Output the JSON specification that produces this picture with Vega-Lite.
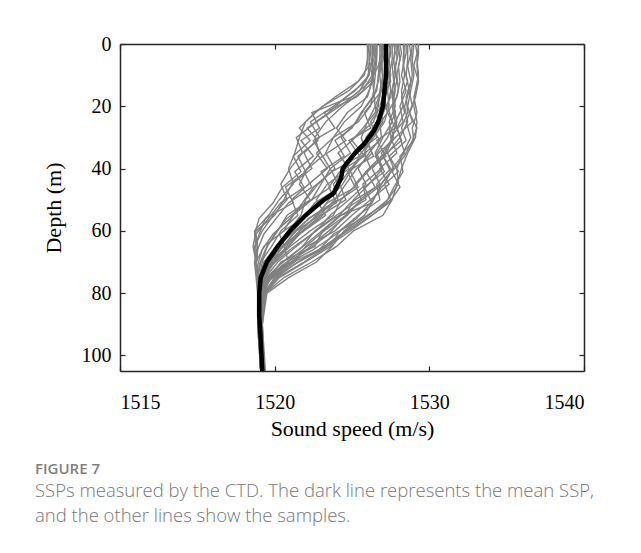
{
  "$schema": "https://vega.github.io/schema/vega-lite/v6.json",
  "autosize": {"type": "none"},
  "width": 464,
  "height": 327,
  "padding": {"left": 120, "top": 44, "right": 57, "bottom": 182},
  "background": "white",
  "config": {
    "view": {"stroke": null},
    "axis": {"labelFont": "Liberation Serif", "titleFont": "Liberation Serif", "labelFontSize": 20, "titleFontSize": 22, "labelColor": "#000", "titleColor": "#000", "titleFontWeight": "normal", "domainColor": "#262626", "domainWidth": 1.5, "tickColor": "#262626", "tickWidth": 1.2, "grid": false, "format": "d"},
    "title": {"font": "Open Sans", "fontSize": 15, "fontWeight": 600, "color": "#7f7f7f", "subtitleFont": "Open Sans", "subtitleFontSize": 18.5, "subtitleFontWeight": 300, "subtitleColor": "#777777", "subtitleLineHeight": 25, "subtitlePadding": 5}
  },
  "title": {
    "text": "FIGURE 7",
    "subtitle": ["SSPs measured by the CTD. The dark line represents the mean SSP,", "and the other lines show the samples."],
    "orient": "bottom", "anchor": "start", "frame": "group", "dx": -85, "offset": 23
  },
  "datasets": {
    "samples": [
{"p":1,"d":0,"c":1529.3},{"p":1,"d":5,"c":1529.2},{"p":1,"d":10,"c":1529.3},{"p":1,"d":15,"c":1529.1},{"p":1,"d":20,"c":1529.0},{"p":1,"d":25,"c":1529.2},{"p":1,"d":30,"c":1529.1},{"p":1,"d":35,"c":1528.6},{"p":1,"d":40,"c":1528.2},{"p":1,"d":45,"c":1527.9},{"p":1,"d":50,"c":1527.6},{"p":1,"d":55,"c":1527.0},{"p":1,"d":60,"c":1525.1},{"p":1,"d":65,"c":1524.0},{"p":1,"d":70,"c":1522.4},{"p":1,"d":75,"c":1520.6},{"p":1,"d":80,"c":1519.4},{"p":1,"d":90,"c":1519.2},{"p":1,"d":105,"c":1519.3},
{"p":2,"d":0,"c":1528.9},{"p":2,"d":5,"c":1528.8},{"p":2,"d":10,"c":1528.9},{"p":2,"d":15,"c":1528.7},{"p":2,"d":20,"c":1528.9},{"p":2,"d":25,"c":1528.5},{"p":2,"d":30,"c":1528.8},{"p":2,"d":35,"c":1528.3},{"p":2,"d":40,"c":1527.9},{"p":2,"d":45,"c":1528.0},{"p":2,"d":50,"c":1527.3},{"p":2,"d":55,"c":1526.1},{"p":2,"d":60,"c":1524.6},{"p":2,"d":65,"c":1523.2},{"p":2,"d":70,"c":1521.5},{"p":2,"d":75,"c":1520.1},{"p":2,"d":80,"c":1519.3},{"p":2,"d":90,"c":1519.1},{"p":2,"d":105,"c":1519.3},
{"p":3,"d":0,"c":1528.3},{"p":3,"d":5,"c":1528.4},{"p":3,"d":10,"c":1528.2},{"p":3,"d":15,"c":1528.5},{"p":3,"d":20,"c":1528.1},{"p":3,"d":25,"c":1528.3},{"p":3,"d":30,"c":1527.5},{"p":3,"d":35,"c":1527.9},{"p":3,"d":40,"c":1526.8},{"p":3,"d":45,"c":1527.4},{"p":3,"d":50,"c":1526.2},{"p":3,"d":55,"c":1525.0},{"p":3,"d":60,"c":1523.9},{"p":3,"d":65,"c":1522.1},{"p":3,"d":70,"c":1520.8},{"p":3,"d":75,"c":1519.6},{"p":3,"d":80,"c":1519.2},{"p":3,"d":90,"c":1519.0},{"p":3,"d":105,"c":1519.2},
{"p":4,"d":0,"c":1527.6},{"p":4,"d":5,"c":1527.6},{"p":4,"d":10,"c":1527.4},{"p":4,"d":15,"c":1527.5},{"p":4,"d":20,"c":1527.3},{"p":4,"d":25,"c":1527.6},{"p":4,"d":30,"c":1527.0},{"p":4,"d":35,"c":1526.5},{"p":4,"d":40,"c":1526.9},{"p":4,"d":45,"c":1525.7},{"p":4,"d":50,"c":1525.9},{"p":4,"d":55,"c":1524.3},{"p":4,"d":60,"c":1523.1},{"p":4,"d":65,"c":1522.6},{"p":4,"d":70,"c":1520.4},{"p":4,"d":75,"c":1519.7},{"p":4,"d":80,"c":1519.1},{"p":4,"d":90,"c":1519.0},{"p":4,"d":105,"c":1519.2},
{"p":5,"d":0,"c":1527.1},{"p":5,"d":5,"c":1527.1},{"p":5,"d":10,"c":1527.2},{"p":5,"d":15,"c":1527.0},{"p":5,"d":20,"c":1527.2},{"p":5,"d":25,"c":1526.8},{"p":5,"d":30,"c":1526.9},{"p":5,"d":35,"c":1526.1},{"p":5,"d":40,"c":1525.4},{"p":5,"d":45,"c":1525.9},{"p":5,"d":50,"c":1524.8},{"p":5,"d":55,"c":1523.6},{"p":5,"d":60,"c":1522.7},{"p":5,"d":65,"c":1521.4},{"p":5,"d":70,"c":1520.2},{"p":5,"d":75,"c":1519.4},{"p":5,"d":80,"c":1519.0},{"p":5,"d":90,"c":1518.9},{"p":5,"d":105,"c":1519.1},
{"p":6,"d":0,"c":1526.6},{"p":6,"d":5,"c":1526.6},{"p":6,"d":10,"c":1526.5},{"p":6,"d":15,"c":1526.4},{"p":6,"d":20,"c":1526.5},{"p":6,"d":25,"c":1526.0},{"p":6,"d":30,"c":1525.6},{"p":6,"d":35,"c":1525.9},{"p":6,"d":40,"c":1524.9},{"p":6,"d":45,"c":1524.2},{"p":6,"d":50,"c":1524.6},{"p":6,"d":55,"c":1523.0},{"p":6,"d":60,"c":1521.8},{"p":6,"d":65,"c":1520.9},{"p":6,"d":70,"c":1519.6},{"p":6,"d":75,"c":1519.2},{"p":6,"d":80,"c":1518.9},{"p":6,"d":90,"c":1518.9},{"p":6,"d":105,"c":1519.1},
{"p":7,"d":0,"c":1526.2},{"p":7,"d":5,"c":1526.1},{"p":7,"d":10,"c":1526.3},{"p":7,"d":15,"c":1525.7},{"p":7,"d":20,"c":1524.4},{"p":7,"d":25,"c":1523.3},{"p":7,"d":30,"c":1522.6},{"p":7,"d":35,"c":1522.9},{"p":7,"d":40,"c":1522.1},{"p":7,"d":45,"c":1521.6},{"p":7,"d":50,"c":1522.3},{"p":7,"d":55,"c":1520.8},{"p":7,"d":60,"c":1520.2},{"p":7,"d":65,"c":1519.5},{"p":7,"d":70,"c":1519.2},{"p":7,"d":75,"c":1519.0},{"p":7,"d":80,"c":1518.9},{"p":7,"d":90,"c":1519.0},{"p":7,"d":105,"c":1519.1},
{"p":8,"d":0,"c":1526.0},{"p":8,"d":5,"c":1526.0},{"p":8,"d":10,"c":1525.8},{"p":8,"d":15,"c":1524.8},{"p":8,"d":20,"c":1523.1},{"p":8,"d":25,"c":1522.0},{"p":8,"d":30,"c":1521.6},{"p":8,"d":35,"c":1521.3},{"p":8,"d":40,"c":1520.9},{"p":8,"d":45,"c":1521.2},{"p":8,"d":50,"c":1520.3},{"p":8,"d":55,"c":1519.6},{"p":8,"d":60,"c":1518.7},{"p":8,"d":65,"c":1518.9},{"p":8,"d":70,"c":1518.7},{"p":8,"d":75,"c":1518.8},{"p":8,"d":80,"c":1518.9},{"p":8,"d":90,"c":1519.0},{"p":8,"d":105,"c":1519.1},
{"p":9,"d":0,"c":1526.4},{"p":9,"d":5,"c":1526.3},{"p":9,"d":10,"c":1526.4},{"p":9,"d":15,"c":1526.1},{"p":9,"d":20,"c":1525.6},{"p":9,"d":25,"c":1524.5},{"p":9,"d":30,"c":1523.8},{"p":9,"d":35,"c":1522.7},{"p":9,"d":40,"c":1523.4},{"p":9,"d":45,"c":1522.2},{"p":9,"d":50,"c":1521.1},{"p":9,"d":55,"c":1521.5},{"p":9,"d":60,"c":1520.4},{"p":9,"d":65,"c":1519.8},{"p":9,"d":70,"c":1519.1},{"p":9,"d":75,"c":1518.9},{"p":9,"d":80,"c":1519.0},{"p":9,"d":90,"c":1519.0},{"p":9,"d":105,"c":1519.2},
{"p":10,"d":0,"c":1527.0},{"p":10,"d":5,"c":1526.9},{"p":10,"d":10,"c":1527.0},{"p":10,"d":15,"c":1526.8},{"p":10,"d":20,"c":1526.7},{"p":10,"d":25,"c":1526.4},{"p":10,"d":30,"c":1525.2},{"p":10,"d":35,"c":1524.1},{"p":10,"d":40,"c":1524.8},{"p":10,"d":45,"c":1523.4},{"p":10,"d":50,"c":1522.7},{"p":10,"d":55,"c":1523.3},{"p":10,"d":60,"c":1521.9},{"p":10,"d":65,"c":1520.6},{"p":10,"d":70,"c":1520.9},{"p":10,"d":75,"c":1519.6},{"p":10,"d":80,"c":1519.2},{"p":10,"d":90,"c":1519.1},{"p":10,"d":105,"c":1519.2},
{"p":11,"d":0,"c":1528.0},{"p":11,"d":5,"c":1528.1},{"p":11,"d":10,"c":1527.9},{"p":11,"d":15,"c":1528.0},{"p":11,"d":20,"c":1527.7},{"p":11,"d":25,"c":1527.9},{"p":11,"d":30,"c":1527.6},{"p":11,"d":35,"c":1527.1},{"p":11,"d":40,"c":1526.1},{"p":11,"d":45,"c":1525.2},{"p":11,"d":50,"c":1525.6},{"p":11,"d":55,"c":1524.7},{"p":11,"d":60,"c":1523.5},{"p":11,"d":65,"c":1522.3},{"p":11,"d":70,"c":1521.1},{"p":11,"d":75,"c":1520.0},{"p":11,"d":80,"c":1519.3},{"p":11,"d":90,"c":1519.1},{"p":11,"d":105,"c":1519.3},
{"p":12,"d":0,"c":1529.0},{"p":12,"d":5,"c":1528.9},{"p":12,"d":10,"c":1529.0},{"p":12,"d":15,"c":1528.8},{"p":12,"d":20,"c":1528.6},{"p":12,"d":25,"c":1528.9},{"p":12,"d":30,"c":1527.8},{"p":12,"d":35,"c":1526.9},{"p":12,"d":40,"c":1527.5},{"p":12,"d":45,"c":1526.6},{"p":12,"d":50,"c":1526.8},{"p":12,"d":55,"c":1525.4},{"p":12,"d":60,"c":1524.2},{"p":12,"d":65,"c":1523.6},{"p":12,"d":70,"c":1522.0},{"p":12,"d":75,"c":1520.3},{"p":12,"d":80,"c":1519.4},{"p":12,"d":90,"c":1519.2},{"p":12,"d":105,"c":1519.4},
{"p":13,"d":0,"c":1527.3},{"p":13,"d":5,"c":1527.3},{"p":13,"d":10,"c":1527.1},{"p":13,"d":15,"c":1527.3},{"p":13,"d":20,"c":1526.9},{"p":13,"d":25,"c":1526.2},{"p":13,"d":30,"c":1526.6},{"p":13,"d":35,"c":1525.3},{"p":13,"d":40,"c":1524.6},{"p":13,"d":45,"c":1523.8},{"p":13,"d":50,"c":1524.1},{"p":13,"d":55,"c":1522.5},{"p":13,"d":60,"c":1521.3},{"p":13,"d":65,"c":1520.2},{"p":13,"d":70,"c":1519.8},{"p":13,"d":75,"c":1519.2},{"p":13,"d":80,"c":1519.0},{"p":13,"d":90,"c":1518.9},{"p":13,"d":105,"c":1519.1},
{"p":14,"d":0,"c":1526.8},{"p":14,"d":5,"c":1526.8},{"p":14,"d":10,"c":1526.7},{"p":14,"d":15,"c":1526.6},{"p":14,"d":20,"c":1525.9},{"p":14,"d":25,"c":1525.3},{"p":14,"d":30,"c":1524.3},{"p":14,"d":35,"c":1524.9},{"p":14,"d":40,"c":1523.6},{"p":14,"d":45,"c":1523.0},{"p":14,"d":50,"c":1522.4},{"p":14,"d":55,"c":1521.2},{"p":14,"d":60,"c":1520.6},{"p":14,"d":65,"c":1519.3},{"p":14,"d":70,"c":1518.8},{"p":14,"d":75,"c":1518.9},{"p":14,"d":80,"c":1518.9},{"p":14,"d":90,"c":1519.0},{"p":14,"d":105,"c":1519.1},
{"p":15,"d":0,"c":1526.3},{"p":15,"d":5,"c":1526.3},{"p":15,"d":10,"c":1526.1},{"p":15,"d":15,"c":1525.2},{"p":15,"d":20,"c":1523.8},{"p":15,"d":25,"c":1522.3},{"p":15,"d":30,"c":1522.9},{"p":15,"d":35,"c":1521.9},{"p":15,"d":40,"c":1522.4},{"p":15,"d":45,"c":1521.1},{"p":15,"d":50,"c":1520.6},{"p":15,"d":55,"c":1520.0},{"p":15,"d":60,"c":1518.8},{"p":15,"d":65,"c":1518.6},{"p":15,"d":70,"c":1518.8},{"p":15,"d":75,"c":1518.9},{"p":15,"d":80,"c":1519.0},{"p":15,"d":90,"c":1519.0},{"p":15,"d":105,"c":1519.1},
{"p":16,"d":0,"c":1527.8},{"p":16,"d":5,"c":1527.7},{"p":16,"d":10,"c":1527.8},{"p":16,"d":15,"c":1527.6},{"p":16,"d":20,"c":1527.8},{"p":16,"d":25,"c":1527.4},{"p":16,"d":30,"c":1527.7},{"p":16,"d":35,"c":1527.2},{"p":16,"d":40,"c":1526.3},{"p":16,"d":45,"c":1526.8},{"p":16,"d":50,"c":1525.5},{"p":16,"d":55,"c":1524.0},{"p":16,"d":60,"c":1522.6},{"p":16,"d":65,"c":1521.8},{"p":16,"d":70,"c":1520.5},{"p":16,"d":75,"c":1519.5},{"p":16,"d":80,"c":1519.1},{"p":16,"d":90,"c":1519.0},{"p":16,"d":105,"c":1519.2},
{"p":17,"d":0,"c":1528.6},{"p":17,"d":5,"c":1528.6},{"p":17,"d":10,"c":1528.5},{"p":17,"d":15,"c":1528.7},{"p":17,"d":20,"c":1528.4},{"p":17,"d":25,"c":1528.6},{"p":17,"d":30,"c":1528.1},{"p":17,"d":35,"c":1528.4},{"p":17,"d":40,"c":1527.6},{"p":17,"d":45,"c":1527.1},{"p":17,"d":50,"c":1527.5},{"p":17,"d":55,"c":1526.3},{"p":17,"d":60,"c":1524.9},{"p":17,"d":65,"c":1523.4},{"p":17,"d":70,"c":1521.9},{"p":17,"d":75,"c":1520.2},{"p":17,"d":80,"c":1519.3},{"p":17,"d":90,"c":1519.1},{"p":17,"d":105,"c":1519.3},
{"p":18,"d":0,"c":1527.5},{"p":18,"d":5,"c":1527.4},{"p":18,"d":10,"c":1527.5},{"p":18,"d":15,"c":1527.3},{"p":18,"d":20,"c":1527.4},{"p":18,"d":25,"c":1527.1},{"p":18,"d":30,"c":1526.4},{"p":18,"d":35,"c":1525.6},{"p":18,"d":40,"c":1525.0},{"p":18,"d":45,"c":1524.4},{"p":18,"d":50,"c":1523.5},{"p":18,"d":55,"c":1522.8},{"p":18,"d":60,"c":1521.6},{"p":18,"d":65,"c":1520.9},{"p":18,"d":70,"c":1520.0},{"p":18,"d":75,"c":1519.3},{"p":18,"d":80,"c":1519.0},{"p":18,"d":90,"c":1519.0},{"p":18,"d":105,"c":1519.2},
{"p":19,"d":0,"c":1526.5},{"p":19,"d":5,"c":1526.5},{"p":19,"d":10,"c":1526.3},{"p":19,"d":15,"c":1526.4},{"p":19,"d":20,"c":1526.2},{"p":19,"d":25,"c":1525.4},{"p":19,"d":30,"c":1523.8},{"p":19,"d":35,"c":1523.3},{"p":19,"d":40,"c":1523.9},{"p":19,"d":45,"c":1522.8},{"p":19,"d":50,"c":1522.0},{"p":19,"d":55,"c":1521.7},{"p":19,"d":60,"c":1520.9},{"p":19,"d":65,"c":1520.1},{"p":19,"d":70,"c":1519.3},{"p":19,"d":75,"c":1519.0},{"p":19,"d":80,"c":1518.9},{"p":19,"d":90,"c":1519.0},{"p":19,"d":105,"c":1519.1},
{"p":20,"d":0,"c":1527.2},{"p":20,"d":5,"c":1527.1},{"p":20,"d":10,"c":1527.2},{"p":20,"d":15,"c":1527.1},{"p":20,"d":20,"c":1526.8},{"p":20,"d":25,"c":1527.0},{"p":20,"d":30,"c":1526.3},{"p":20,"d":35,"c":1525.8},{"p":20,"d":40,"c":1526.2},{"p":20,"d":45,"c":1525.3},{"p":20,"d":50,"c":1524.3},{"p":20,"d":55,"c":1523.8},{"p":20,"d":60,"c":1522.3},{"p":20,"d":65,"c":1521.0},{"p":20,"d":70,"c":1519.9},{"p":20,"d":75,"c":1519.4},{"p":20,"d":80,"c":1519.1},{"p":20,"d":90,"c":1519.0},{"p":20,"d":105,"c":1519.2},
{"p":21,"d":0,"c":1528.4},{"p":21,"d":5,"c":1528.3},{"p":21,"d":10,"c":1528.4},{"p":21,"d":15,"c":1528.2},{"p":21,"d":20,"c":1528.3},{"p":21,"d":25,"c":1527.8},{"p":21,"d":30,"c":1528.1},{"p":21,"d":35,"c":1527.3},{"p":21,"d":40,"c":1527.7},{"p":21,"d":45,"c":1526.9},{"p":21,"d":50,"c":1526.4},{"p":21,"d":55,"c":1525.8},{"p":21,"d":60,"c":1524.5},{"p":21,"d":65,"c":1523.7},{"p":21,"d":70,"c":1522.7},{"p":21,"d":75,"c":1520.9},{"p":21,"d":80,"c":1519.5},{"p":21,"d":90,"c":1519.2},{"p":21,"d":105,"c":1519.3},
{"p":22,"d":0,"c":1526.9},{"p":22,"d":5,"c":1526.9},{"p":22,"d":10,"c":1526.8},{"p":22,"d":15,"c":1526.9},{"p":22,"d":20,"c":1526.5},{"p":22,"d":25,"c":1526.7},{"p":22,"d":30,"c":1525.9},{"p":22,"d":35,"c":1526.3},{"p":22,"d":40,"c":1525.3},{"p":22,"d":45,"c":1524.6},{"p":22,"d":50,"c":1523.9},{"p":22,"d":55,"c":1522.9},{"p":22,"d":60,"c":1521.4},{"p":22,"d":65,"c":1520.5},{"p":22,"d":70,"c":1519.5},{"p":22,"d":75,"c":1519.1},{"p":22,"d":80,"c":1519.0},{"p":22,"d":90,"c":1519.0},{"p":22,"d":105,"c":1519.1},
{"p":23,"d":0,"c":1526.1},{"p":23,"d":5,"c":1526.0},{"p":23,"d":10,"c":1526.1},{"p":23,"d":15,"c":1525.5},{"p":23,"d":20,"c":1524.2},{"p":23,"d":25,"c":1522.7},{"p":23,"d":30,"c":1521.4},{"p":23,"d":35,"c":1521.8},{"p":23,"d":40,"c":1521.0},{"p":23,"d":45,"c":1520.4},{"p":23,"d":50,"c":1520.8},{"p":23,"d":55,"c":1519.9},{"p":23,"d":60,"c":1519.2},{"p":23,"d":65,"c":1518.7},{"p":23,"d":70,"c":1518.8},{"p":23,"d":75,"c":1518.9},{"p":23,"d":80,"c":1519.0},{"p":23,"d":90,"c":1519.0},{"p":23,"d":105,"c":1519.1},
{"p":24,"d":0,"c":1527.9},{"p":24,"d":5,"c":1527.9},{"p":24,"d":10,"c":1527.7},{"p":24,"d":15,"c":1527.8},{"p":24,"d":20,"c":1527.6},{"p":24,"d":25,"c":1527.8},{"p":24,"d":30,"c":1527.3},{"p":24,"d":35,"c":1526.6},{"p":24,"d":40,"c":1527.0},{"p":24,"d":45,"c":1526.1},{"p":24,"d":50,"c":1525.1},{"p":24,"d":55,"c":1524.6},{"p":24,"d":60,"c":1523.2},{"p":24,"d":65,"c":1522.0},{"p":24,"d":70,"c":1521.3},{"p":24,"d":75,"c":1519.8},{"p":24,"d":80,"c":1519.2},{"p":24,"d":90,"c":1519.1},{"p":24,"d":105,"c":1519.2},
{"p":25,"d":0,"c":1526.8},{"p":25,"d":3,"c":1526.9},{"p":25,"d":7,"c":1526.7},{"p":25,"d":12,"c":1526.2},{"p":25,"d":17,"c":1525.0},{"p":25,"d":22,"c":1522.4},{"p":25,"d":27,"c":1522.9},{"p":25,"d":31,"c":1521.7},{"p":25,"d":36,"c":1522.5},{"p":25,"d":41,"c":1521.3},{"p":25,"d":46,"c":1521.9},{"p":25,"d":51,"c":1520.4},{"p":25,"d":56,"c":1519.6},{"p":25,"d":61,"c":1518.8},{"p":25,"d":66,"c":1518.9},{"p":25,"d":71,"c":1518.8},{"p":25,"d":76,"c":1519.0},{"p":25,"d":82,"c":1519.0},{"p":25,"d":95,"c":1519.1},{"p":25,"d":105,"c":1519.2},
{"p":26,"d":0,"c":1527.4},{"p":26,"d":3,"c":1527.5},{"p":26,"d":7,"c":1527.3},{"p":26,"d":12,"c":1527.4},{"p":26,"d":17,"c":1526.6},{"p":26,"d":22,"c":1525.8},{"p":26,"d":27,"c":1526.2},{"p":26,"d":31,"c":1524.8},{"p":26,"d":36,"c":1525.5},{"p":26,"d":41,"c":1523.7},{"p":26,"d":46,"c":1524.2},{"p":26,"d":51,"c":1522.6},{"p":26,"d":56,"c":1521.8},{"p":26,"d":61,"c":1520.3},{"p":26,"d":66,"c":1520.7},{"p":26,"d":71,"c":1519.4},{"p":26,"d":76,"c":1519.1},{"p":26,"d":82,"c":1519.0},{"p":26,"d":95,"c":1519.1},{"p":26,"d":105,"c":1519.2},
{"p":27,"d":0,"c":1529.1},{"p":27,"d":3,"c":1529.2},{"p":27,"d":7,"c":1529.0},{"p":27,"d":12,"c":1529.3},{"p":27,"d":17,"c":1529.1},{"p":27,"d":22,"c":1528.7},{"p":27,"d":27,"c":1529.2},{"p":27,"d":31,"c":1528.9},{"p":27,"d":36,"c":1528.4},{"p":27,"d":41,"c":1527.6},{"p":27,"d":46,"c":1528.1},{"p":27,"d":51,"c":1527.4},{"p":27,"d":56,"c":1526.0},{"p":27,"d":61,"c":1524.4},{"p":27,"d":66,"c":1523.0},{"p":27,"d":71,"c":1521.2},{"p":27,"d":76,"c":1519.6},{"p":27,"d":82,"c":1519.2},{"p":27,"d":95,"c":1519.2},{"p":27,"d":105,"c":1519.3},
{"p":28,"d":0,"c":1528.1},{"p":28,"d":3,"c":1528.2},{"p":28,"d":7,"c":1528.0},{"p":28,"d":12,"c":1528.1},{"p":28,"d":17,"c":1527.9},{"p":28,"d":22,"c":1527.3},{"p":28,"d":27,"c":1527.8},{"p":28,"d":31,"c":1526.6},{"p":28,"d":36,"c":1527.2},{"p":28,"d":41,"c":1525.9},{"p":28,"d":46,"c":1526.5},{"p":28,"d":51,"c":1524.9},{"p":28,"d":56,"c":1524.0},{"p":28,"d":61,"c":1522.8},{"p":28,"d":66,"c":1521.6},{"p":28,"d":71,"c":1520.3},{"p":28,"d":76,"c":1519.3},{"p":28,"d":82,"c":1519.1},{"p":28,"d":95,"c":1519.1},{"p":28,"d":105,"c":1519.3},
{"p":29,"d":0,"c":1526.3},{"p":29,"d":3,"c":1526.4},{"p":29,"d":7,"c":1526.2},{"p":29,"d":12,"c":1525.9},{"p":29,"d":17,"c":1524.6},{"p":29,"d":22,"c":1523.5},{"p":29,"d":27,"c":1522.1},{"p":29,"d":31,"c":1522.8},{"p":29,"d":36,"c":1521.5},{"p":29,"d":41,"c":1522.0},{"p":29,"d":46,"c":1520.7},{"p":29,"d":51,"c":1521.2},{"p":29,"d":56,"c":1519.4},{"p":29,"d":61,"c":1519.0},{"p":29,"d":66,"c":1518.7},{"p":29,"d":71,"c":1518.8},{"p":29,"d":76,"c":1518.9},{"p":29,"d":82,"c":1519.0},{"p":29,"d":95,"c":1519.1},{"p":29,"d":105,"c":1519.1},
{"p":30,"d":0,"c":1527.7},{"p":30,"d":3,"c":1527.8},{"p":30,"d":7,"c":1527.6},{"p":30,"d":12,"c":1527.7},{"p":30,"d":17,"c":1527.5},{"p":30,"d":22,"c":1527.0},{"p":30,"d":27,"c":1526.3},{"p":30,"d":31,"c":1526.8},{"p":30,"d":36,"c":1525.6},{"p":30,"d":41,"c":1524.9},{"p":30,"d":46,"c":1525.4},{"p":30,"d":51,"c":1523.9},{"p":30,"d":56,"c":1522.9},{"p":30,"d":61,"c":1521.5},{"p":30,"d":66,"c":1520.2},{"p":30,"d":71,"c":1519.6},{"p":30,"d":76,"c":1519.1},{"p":30,"d":82,"c":1519.0},{"p":30,"d":95,"c":1519.1},{"p":30,"d":105,"c":1519.2},
{"p":31,"d":0,"c":1528.7},{"p":31,"d":3,"c":1528.8},{"p":31,"d":7,"c":1528.6},{"p":31,"d":12,"c":1528.8},{"p":31,"d":17,"c":1528.5},{"p":31,"d":22,"c":1528.6},{"p":31,"d":27,"c":1528.2},{"p":31,"d":31,"c":1528.5},{"p":31,"d":36,"c":1527.4},{"p":31,"d":41,"c":1528.0},{"p":31,"d":46,"c":1526.9},{"p":31,"d":51,"c":1526.2},{"p":31,"d":56,"c":1525.3},{"p":31,"d":61,"c":1524.0},{"p":31,"d":66,"c":1522.5},{"p":31,"d":71,"c":1520.7},{"p":31,"d":76,"c":1519.4},{"p":31,"d":82,"c":1519.1},{"p":31,"d":95,"c":1519.2},{"p":31,"d":105,"c":1519.3},
{"p":32,"d":0,"c":1526.6},{"p":32,"d":3,"c":1526.6},{"p":32,"d":7,"c":1526.5},{"p":32,"d":12,"c":1526.3},{"p":32,"d":17,"c":1526.0},{"p":32,"d":22,"c":1524.7},{"p":32,"d":27,"c":1524.0},{"p":32,"d":31,"c":1524.6},{"p":32,"d":36,"c":1523.1},{"p":32,"d":41,"c":1523.7},{"p":32,"d":46,"c":1522.5},{"p":32,"d":51,"c":1521.8},{"p":32,"d":56,"c":1521.0},{"p":32,"d":61,"c":1519.9},{"p":32,"d":66,"c":1519.2},{"p":32,"d":71,"c":1518.9},{"p":32,"d":76,"c":1518.9},{"p":32,"d":82,"c":1519.0},{"p":32,"d":95,"c":1519.1},{"p":32,"d":105,"c":1519.1},
{"p":33,"d":0,"c":1527.0},{"p":33,"d":3,"c":1527.1},{"p":33,"d":7,"c":1526.9},{"p":33,"d":12,"c":1527.0},{"p":33,"d":17,"c":1526.8},{"p":33,"d":22,"c":1526.5},{"p":33,"d":27,"c":1525.7},{"p":33,"d":31,"c":1525.0},{"p":33,"d":36,"c":1525.8},{"p":33,"d":41,"c":1524.2},{"p":33,"d":46,"c":1523.5},{"p":33,"d":51,"c":1524.0},{"p":33,"d":56,"c":1522.2},{"p":33,"d":61,"c":1521.2},{"p":33,"d":66,"c":1520.4},{"p":33,"d":71,"c":1519.5},{"p":33,"d":76,"c":1519.1},{"p":33,"d":82,"c":1519.0},{"p":33,"d":95,"c":1519.1},{"p":33,"d":105,"c":1519.2},
{"p":34,"d":0,"c":1528.5},{"p":34,"d":3,"c":1528.5},{"p":34,"d":7,"c":1528.3},{"p":34,"d":12,"c":1528.6},{"p":34,"d":17,"c":1528.2},{"p":34,"d":22,"c":1528.4},{"p":34,"d":27,"c":1527.9},{"p":34,"d":31,"c":1528.2},{"p":34,"d":36,"c":1527.0},{"p":34,"d":41,"c":1527.5},{"p":34,"d":46,"c":1526.7},{"p":34,"d":51,"c":1525.4},{"p":34,"d":56,"c":1524.4},{"p":34,"d":61,"c":1523.5},{"p":34,"d":66,"c":1522.2},{"p":34,"d":71,"c":1520.5},{"p":34,"d":76,"c":1519.4},{"p":34,"d":82,"c":1519.1},{"p":34,"d":95,"c":1519.2},{"p":34,"d":105,"c":1519.3},
{"p":35,"d":0,"c":1526.2},{"p":35,"d":3,"c":1526.2},{"p":35,"d":7,"c":1526.1},{"p":35,"d":12,"c":1525.4},{"p":35,"d":17,"c":1523.9},{"p":35,"d":22,"c":1522.6},{"p":35,"d":27,"c":1521.6},{"p":35,"d":31,"c":1522.3},{"p":35,"d":36,"c":1521.2},{"p":35,"d":41,"c":1521.7},{"p":35,"d":46,"c":1520.5},{"p":35,"d":51,"c":1519.9},{"p":35,"d":56,"c":1519.0},{"p":35,"d":61,"c":1518.7},{"p":35,"d":66,"c":1518.8},{"p":35,"d":71,"c":1518.8},{"p":35,"d":76,"c":1518.9},{"p":35,"d":82,"c":1519.0},{"p":35,"d":95,"c":1519.0},{"p":35,"d":105,"c":1519.1},
{"p":36,"d":0,"c":1527.5},{"p":36,"d":3,"c":1527.5},{"p":36,"d":7,"c":1527.3},{"p":36,"d":12,"c":1527.5},{"p":36,"d":17,"c":1527.0},{"p":36,"d":22,"c":1527.3},{"p":36,"d":27,"c":1526.6},{"p":36,"d":31,"c":1525.9},{"p":36,"d":36,"c":1526.4},{"p":36,"d":41,"c":1524.7},{"p":36,"d":46,"c":1525.2},{"p":36,"d":51,"c":1523.4},{"p":36,"d":56,"c":1522.5},{"p":36,"d":61,"c":1521.4},{"p":36,"d":66,"c":1520.6},{"p":36,"d":71,"c":1519.7},{"p":36,"d":76,"c":1519.2},{"p":36,"d":82,"c":1519.0},{"p":36,"d":95,"c":1519.1},{"p":36,"d":105,"c":1519.2},
{"p":37,"d":0,"c":1527.9},{"p":37,"d":3,"c":1528.0},{"p":37,"d":7,"c":1527.8},{"p":37,"d":12,"c":1527.9},{"p":37,"d":17,"c":1527.6},{"p":37,"d":22,"c":1527.8},{"p":37,"d":27,"c":1527.4},{"p":37,"d":31,"c":1527.6},{"p":37,"d":36,"c":1526.5},{"p":37,"d":41,"c":1527.1},{"p":37,"d":46,"c":1525.8},{"p":37,"d":51,"c":1526.3},{"p":37,"d":56,"c":1523.8},{"p":37,"d":61,"c":1522.4},{"p":37,"d":66,"c":1521.0},{"p":37,"d":71,"c":1519.8},{"p":37,"d":76,"c":1519.2},{"p":37,"d":82,"c":1519.1},{"p":37,"d":95,"c":1519.1},{"p":37,"d":105,"c":1519.2},
{"p":38,"d":0,"c":1526.9},{"p":38,"d":3,"c":1527.0},{"p":38,"d":7,"c":1526.8},{"p":38,"d":12,"c":1526.7},{"p":38,"d":17,"c":1526.4},{"p":38,"d":22,"c":1525.6},{"p":38,"d":27,"c":1525.0},{"p":38,"d":31,"c":1523.9},{"p":38,"d":36,"c":1524.5},{"p":38,"d":41,"c":1523.0},{"p":38,"d":46,"c":1523.6},{"p":38,"d":51,"c":1522.1},{"p":38,"d":56,"c":1520.8},{"p":38,"d":61,"c":1520.0},{"p":38,"d":66,"c":1519.4},{"p":38,"d":71,"c":1519.0},{"p":38,"d":76,"c":1518.9},{"p":38,"d":82,"c":1519.0},{"p":38,"d":95,"c":1519.1},{"p":38,"d":105,"c":1519.1},
{"p":39,"d":0,"c":1529.3},{"p":39,"d":3,"c":1529.3},{"p":39,"d":7,"c":1529.2},{"p":39,"d":12,"c":1529.3},{"p":39,"d":17,"c":1529.0},{"p":39,"d":22,"c":1529.2},{"p":39,"d":27,"c":1528.9},{"p":39,"d":31,"c":1529.0},{"p":39,"d":36,"c":1528.1},{"p":39,"d":41,"c":1528.3},{"p":39,"d":46,"c":1527.7},{"p":39,"d":51,"c":1527.2},{"p":39,"d":56,"c":1525.7},{"p":39,"d":61,"c":1523.8},{"p":39,"d":66,"c":1522.9},{"p":39,"d":71,"c":1520.8},{"p":39,"d":76,"c":1519.5},{"p":39,"d":82,"c":1519.2},{"p":39,"d":95,"c":1519.2},{"p":39,"d":105,"c":1519.3},
{"p":40,"d":0,"c":1526.4},{"p":40,"d":3,"c":1526.5},{"p":40,"d":7,"c":1526.3},{"p":40,"d":12,"c":1526.4},{"p":40,"d":17,"c":1525.3},{"p":40,"d":22,"c":1523.2},{"p":40,"d":27,"c":1523.9},{"p":40,"d":31,"c":1522.5},{"p":40,"d":36,"c":1523.1},{"p":40,"d":41,"c":1521.9},{"p":40,"d":46,"c":1522.4},{"p":40,"d":51,"c":1520.9},{"p":40,"d":56,"c":1520.1},{"p":40,"d":61,"c":1519.3},{"p":40,"d":66,"c":1518.9},{"p":40,"d":71,"c":1518.8},{"p":40,"d":76,"c":1518.9},{"p":40,"d":82,"c":1519.0},{"p":40,"d":95,"c":1519.1},{"p":40,"d":105,"c":1519.1}
    ],
    "mean": [
{"d":0,"c":1527.2},{"d":5,"c":1527.2},{"d":10,"c":1527.2},{"d":15,"c":1527.1},{"d":20,"c":1527.0},{"d":25,"c":1526.7},{"d":28,"c":1526.4},{"d":32,"c":1525.8},{"d":35,"c":1525.2},{"d":38,"c":1524.7},{"d":40,"c":1524.4},{"d":43,"c":1524.3},{"d":46,"c":1524.0},{"d":48,"c":1523.8},{"d":50,"c":1523.2},{"d":52,"c":1522.7},{"d":55,"c":1522.0},{"d":60,"c":1521.0},{"d":65,"c":1520.2},{"d":70,"c":1519.5},{"d":75,"c":1519.1},{"d":80,"c":1519.0},{"d":87,"c":1519.0},{"d":95,"c":1519.1},{"d":105,"c":1519.2}
    ]
  },
  "layer": [
    {
      "data": {"name": "samples"},
      "mark": {"type": "line", "color": "#808080", "strokeWidth": 1.4, "clip": true},
      "encoding": {
        "x": {"field": "c", "type": "quantitative", "scale": {"domain": [1510, 1540], "nice": false, "zero": false},
          "axis": {"orient": "bottom", "values": [1510, 1520, 1530, 1540], "labelExpr": "datum.value == 1510 ? '1515' : datum.label", "tickSize": -5, "labelPadding": 26, "title": "Sound speed (m/s)", "titlePadding": 6}},
        "y": {"field": "d", "type": "quantitative", "scale": {"domain": [0, 105], "nice": false, "zero": false, "reverse": true},
          "axis": {"orient": "left", "values": [0, 20, 40, 60, 80, 100], "tickSize": -5, "labelPadding": 14, "title": "Depth (m)", "titlePadding": 16}},
        "detail": {"field": "p", "type": "nominal"},
        "order": {"field": "d", "type": "quantitative"}
      }
    },
    {
      "data": {"name": "mean"},
      "mark": {"type": "line", "color": "#000000", "strokeWidth": 4.5, "clip": true},
      "encoding": {
        "x": {"field": "c", "type": "quantitative",
          "axis": {"orient": "top", "values": [1510, 1520, 1530, 1540], "labels": false, "tickSize": -5, "title": null}},
        "y": {"field": "d", "type": "quantitative",
          "axis": {"orient": "right", "values": [0, 20, 40, 60, 80, 100], "labels": false, "tickSize": -5, "title": null}},
        "order": {"field": "d", "type": "quantitative"}
      }
    }
  ],
  "resolve": {"axis": {"x": "independent", "y": "independent"}}
}
